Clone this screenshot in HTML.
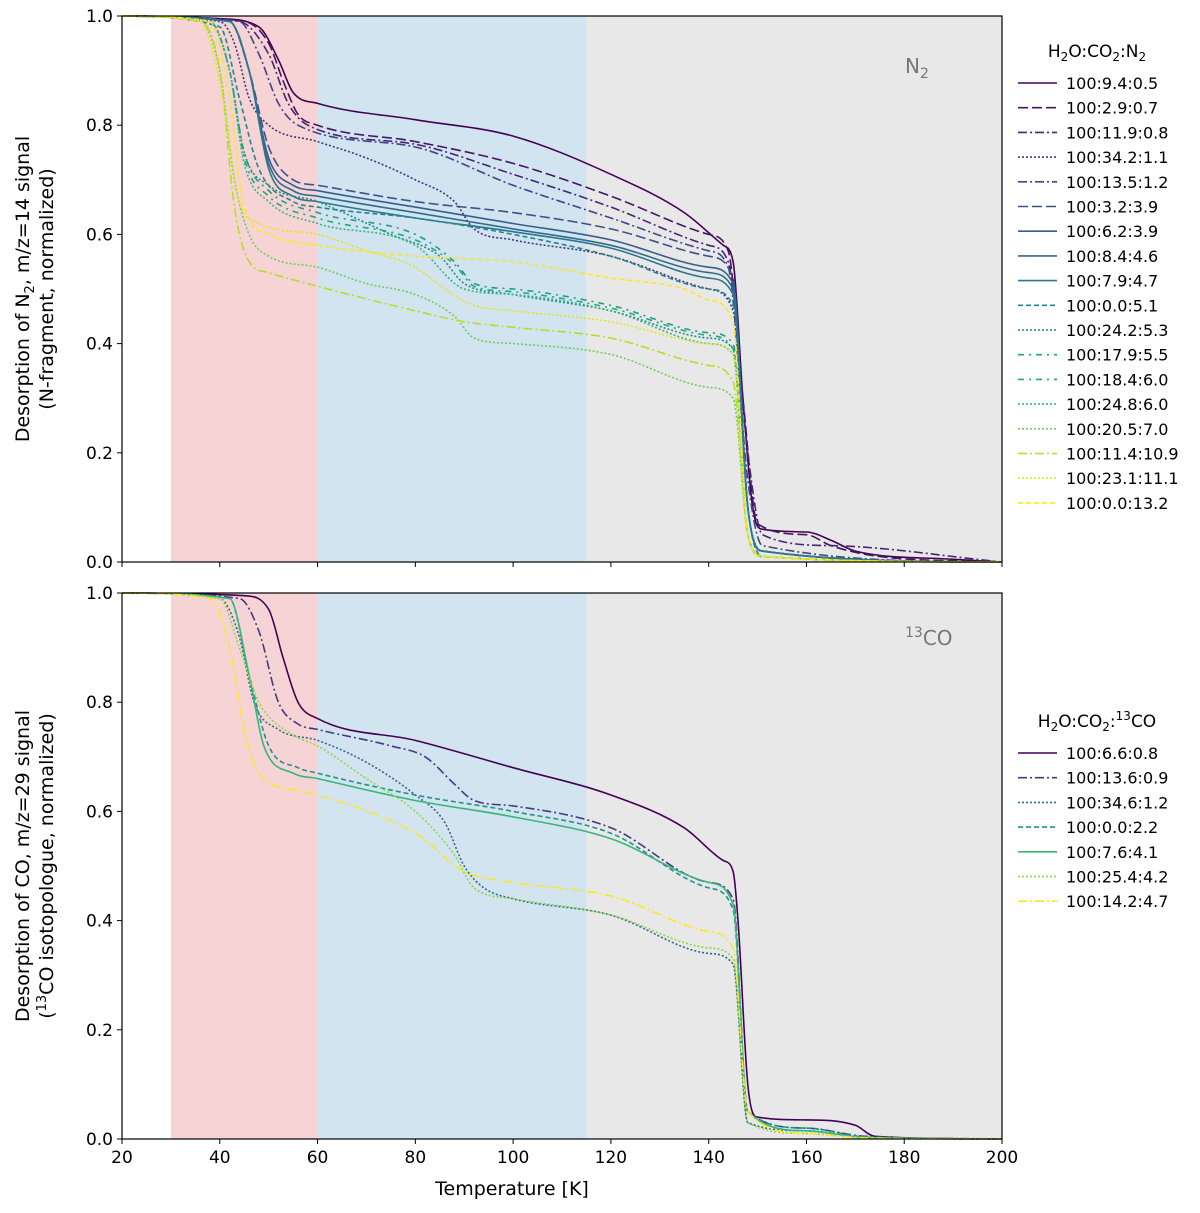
<!DOCTYPE html>
<html><head><meta charset="utf-8"><style>
body{margin:0;background:#fff;font-family:"Liberation Sans","DejaVu Sans",sans-serif}
svg text{font-family:"DejaVu Sans","Liberation Sans",sans-serif}
</style></head><body>
<svg id="c" width="1200" height="1208" xmlns="http://www.w3.org/2000/svg"></svg>
<script>
const topLabels=["100:9.4:0.5","100:2.9:0.7","100:11.9:0.8","100:34.2:1.1","100:13.5:1.2","100:3.2:3.9","100:6.2:3.9","100:8.4:4.6","100:7.9:4.7","100:0.0:5.1","100:24.2:5.3","100:17.9:5.5","100:18.4:6.0","100:24.8:6.0","100:20.5:7.0","100:11.4:10.9","100:23.1:11.1","100:0.0:13.2"];
const topColors=["#440154","#471365","#482475","#463480","#414487","#3b528b","#355f8d","#2f6c8e","#2a788e","#25858e","#21918c","#1f9e89","#22a884","#35b779","#6ece58","#b5de2b","#e4e419","#fde725"];
const topDash=["","10,4","9,3,2,3","2,2","9,3,2,3","10,4","","","","5,3","2,2","6,5,2,5","6,5,2,5","2,2","2,2","9,3,2,3","2,2","5,3"];
const topT=[
[20,40,48,52,55,60,80,100,120,135,143,145,147,149,151,160,165,170,190,200],
[20,45,50,53,56,60,80,100,120,140,144,147,150,160,165,175,200],
[20,44,50,54,58,80,100,120,140,144,148,151,165,200],
[20,40,43,46,50,60,70,80,88,92,100,120,140,145,148,151,200],
[20,44,48,52,56,80,100,120,140,144,148,151,200],
[20,42,46,50,55,60,80,100,120,140,145,148,151,200],
[20,42,46,50,55,60,80,100,120,140,145,148,151,200],
[20,42,46,50,55,60,80,100,120,140,145,148,151,200],
[20,42,46,50,55,60,80,100,120,140,145,148,151,200],
[20,40,44,48,55,60,80,100,120,140,145,148,151,200],
[20,38,42,45,50,60,75,85,90,100,120,140,145,148,151,200],
[20,38,42,45,50,60,80,88,92,100,120,140,145,148,151,200],
[20,38,42,45,50,60,80,88,92,100,120,140,145,148,151,200],
[20,38,42,45,50,60,80,90,100,120,140,145,148,151,200],
[20,36,40,43,46,50,60,70,80,88,92,100,120,140,145,148,151,200],
[20,36,40,43,46,50,60,80,90,100,120,140,145,148,151,200],
[20,36,40,44,48,60,70,80,86,92,100,120,140,145,148,151,200],
[20,38,42,45,50,60,80,100,120,135,140,145,148,151,200]];
const topV=[
[1,.995,.98,.92,.86,.84,.81,.78,.71,.64,.58,.55,.3,.1,.06,.055,.04,.02,.005,0],
[1,.99,.95,.88,.82,.80,.77,.73,.67,.6,.57,.3,.07,.05,.03,.01,0],
[1,.99,.93,.84,.80,.765,.71,.65,.58,.55,.2,.05,.03,0],
[1,.99,.95,.85,.80,.77,.74,.70,.66,.61,.59,.56,.5,.46,.1,.02,0],
[1,.99,.93,.84,.80,.76,.69,.63,.57,.54,.15,.03,0],
[1,.99,.9,.76,.70,.69,.66,.64,.61,.56,.52,.1,.02,0],
[1,.99,.9,.74,.69,.68,.65,.62,.59,.54,.51,.1,.02,0],
[1,.99,.9,.73,.68,.67,.64,.61,.58,.53,.50,.1,.02,0],
[1,.99,.9,.72,.67,.66,.63,.605,.575,.52,.49,.1,.02,0],
[1,.98,.85,.72,.66,.65,.63,.60,.56,.50,.47,.1,.01,0],
[1,.99,.9,.75,.69,.66,.60,.56,.51,.49,.46,.41,.39,.05,.01,0],
[1,.99,.9,.75,.68,.64,.60,.55,.51,.50,.47,.42,.40,.05,.01,0],
[1,.99,.9,.74,.67,.63,.59,.545,.505,.495,.465,.415,.39,.05,.01,0],
[1,.99,.9,.73,.66,.62,.58,.50,.49,.46,.40,.38,.05,.01,0],
[1,.99,.9,.7,.6,.56,.54,.51,.49,.45,.41,.40,.38,.32,.30,.05,.01,0],
[1,.99,.9,.65,.55,.53,.505,.46,.44,.43,.41,.36,.33,.05,.01,0],
[1,.99,.88,.66,.62,.60,.57,.54,.50,.47,.46,.44,.40,.38,.05,.01,0],
[1,.99,.85,.65,.60,.58,.56,.55,.52,.50,.48,.44,.05,.01,0]];
const botLabels=["100:6.6:0.8","100:13.6:0.9","100:34.6:1.2","100:0.0:2.2","100:7.6:4.1","100:25.4:4.2","100:14.2:4.7"];
const botColors=["#440154","#443983","#31688e","#21918c","#35b779","#8fd744","#fde725"];
const botDash=["","9,3,2,3","2,2","5,3","","2,2","9,3,2,3"];
const botT=[
[20,45,50,53,56,60,80,100,120,135,143,145,146,148,150,160,170,174,200],
[20,44,48,52,56,60,75,82,88,92,100,120,140,145,148,160,172,200],
[20,40,44,47,52,60,70,80,86,90,94,100,120,140,145,148,160,172,200],
[20,42,46,50,56,60,80,100,120,140,145,148,160,172,200],
[20,42,46,49,55,60,80,100,120,140,145,148,160,172,200],
[20,40,44,48,55,60,70,80,88,92,100,120,140,145,148,160,172,200],
[20,38,42,45,48,55,60,80,90,100,120,140,145,148,160,172,200]];
const botV=[
[1,.995,.97,.88,.80,.77,.73,.68,.63,.57,.51,.49,.4,.1,.04,.035,.025,.005,0],
[1,.99,.93,.80,.76,.75,.72,.70,.65,.62,.61,.57,.47,.44,.05,.02,.005,0],
[1,.99,.92,.80,.75,.73,.69,.63,.58,.50,.46,.44,.41,.34,.32,.03,.015,.003,0],
[1,.99,.85,.72,.68,.67,.63,.60,.56,.46,.42,.05,.02,.004,0],
[1,.99,.85,.72,.67,.66,.62,.59,.55,.47,.43,.05,.015,.003,0],
[1,.99,.9,.8,.74,.72,.66,.60,.52,.46,.44,.41,.35,.33,.03,.01,.002,0],
[1,.99,.9,.75,.67,.64,.63,.56,.49,.47,.445,.38,.35,.05,.01,.002,0]];
const xTicks=[20,40,60,80,100,120,140,160,180,200];
const yTicks=[0,0.2,0.4,0.6,0.8,1.0];

const S=document.getElementById('c'),NS="http://www.w3.org/2000/svg";
function mk(t,a,p){const e=document.createElementNS(NS,t);for(const k in a)e.setAttribute(k,a[k]);(p||S).appendChild(e);return e;}
const X0=122,X1=1002;
const sx=t=>X0+(t-20)/180*(X1-X0);
// monotone cubic (Fritsch-Carlson) path through data points
function monoPath(xs,ys){
  const n=xs.length,d=[],m=[];
  for(let i=0;i<n-1;i++)d.push((ys[i+1]-ys[i])/(xs[i+1]-xs[i]));
  m[0]=d[0];m[n-1]=d[n-2];
  for(let i=1;i<n-1;i++){m[i]=(d[i-1]*d[i]<=0)?0:(d[i-1]+d[i])/2;}
  for(let i=0;i<n-1;i++){if(d[i]===0){m[i]=0;m[i+1]=0;continue;}
    const a=m[i]/d[i],b=m[i+1]/d[i],s=a*a+b*b;if(s>9){const t=3/Math.sqrt(s);m[i]=t*a*d[i];m[i+1]=t*b*d[i];}}
  let p='M'+xs[0].toFixed(1)+','+ys[0].toFixed(1);
  for(let i=0;i<n-1;i++){const h=(xs[i+1]-xs[i])/3;
    p+='C'+(xs[i]+h).toFixed(1)+','+(ys[i]+m[i]*h).toFixed(1)+' '+(xs[i+1]-h).toFixed(1)+','+(ys[i+1]-m[i+1]*h).toFixed(1)+' '+xs[i+1].toFixed(1)+','+ys[i+1].toFixed(1);}
  return p;
}
function panel(yTop,yBot,T,V,cols,dash,labs,name,legY,legTitle,tag,tagX,tagY,showX,ylab1,ylab2){
  const sy=v=>yBot-v*(yBot-yTop);
  const g=mk('g',{});
  const bands=[[30,60,'#f6d4d5','cold-band'],[60,115,'#d2e4f0','mid-band'],[115,200,'#e8e8e8','warm-band']];
  bands.forEach(b=>{const r=mk('rect',{x:sx(b[0]),y:yTop,width:sx(b[1])-sx(b[0]),height:yBot-yTop,fill:b[2]},g);});
  const tt=mk('text',{x:tagX,y:tagY,'font-size':20,fill:'#777'},g);tt.innerHTML=tag;
  for(let i=0;i<T.length;i++){
    const d=monoPath(T[i].map(sx),V[i].map(sy));
    const p=mk('path',{d:d,fill:'none',stroke:cols[i],'stroke-width':1.6,'stroke-dasharray':dash[i]},g);
    
    
  }
  const fr=mk('rect',{x:X0,y:yTop,width:X1-X0,height:yBot-yTop,fill:'none',stroke:'#000','stroke-width':1.2},g);
  
  xTicks.forEach(t=>{mk('line',{x1:sx(t),x2:sx(t),y1:yBot,y2:yBot+5,stroke:'#000'},g);
    if(showX){const l=mk('text',{x:sx(t),y:yBot+24,'font-size':17,'text-anchor':'middle'},g);l.textContent=t;}});
  yTicks.forEach(v=>{mk('line',{x1:X0-5,x2:X0,y1:sy(v),y2:sy(v),stroke:'#000'},g);
    const l=mk('text',{x:X0-9,y:sy(v)+6,'font-size':17,'text-anchor':'end'},g);l.textContent=v.toFixed(1);});
  const cy=(yTop+yBot)/2;
  const y1=mk('text',{x:0,y:0,'font-size':19,'text-anchor':'middle',transform:`translate(29,${cy}) rotate(-90)`},g);y1.innerHTML=ylab1;
  const y2=mk('text',{x:0,y:0,'font-size':19,'text-anchor':'middle',transform:`translate(53,${cy}) rotate(-90)`},g);y2.innerHTML=ylab2;
  const lg=mk('g',{},g);
  const lt=mk('text',{x:1097,y:legY-26,'font-size':17,'text-anchor':'middle'},lg);lt.innerHTML=legTitle;
  labs.forEach((s,i)=>{const y=legY+i*24.7;
    const ln=mk('line',{x1:1018,x2:1057,y1:y,y2:y,stroke:cols[i],'stroke-width':1.6,'stroke-dasharray':dash[i]},lg);
    const t=mk('text',{x:1066,y:y+6,'font-size':16},lg);t.textContent=s;});
}
panel(16,562,topT,topV,topColors,topDash,topLabels,'n2',83,'H<tspan font-size="12" dy="4">2</tspan><tspan dy="-4">O:CO</tspan><tspan font-size="12" dy="4">2</tspan><tspan dy="-4">:N</tspan><tspan font-size="12" dy="4">2</tspan>','N<tspan font-size="14" dy="5">2</tspan>',905,73,false,'Desorption of N<tspan font-size="13" dy="5">2</tspan><tspan dy="-5">, m/z=14 signal</tspan>','(N-fragment, normalized)');
panel(593,1139,botT,botV,botColors,botDash,botLabels,'co',753,'H<tspan font-size="12" dy="4">2</tspan><tspan dy="-4">O:CO</tspan><tspan font-size="12" dy="4">2</tspan><tspan dy="-4">:</tspan><tspan font-size="12" dy="-7">13</tspan><tspan dy="7">CO</tspan>','<tspan font-size="14" dy="-8">13</tspan><tspan dy="8">CO</tspan>',905,645,true,'Desorption of CO, m/z=29 signal','(<tspan font-size="13" dy="-7">13</tspan><tspan dy="7">CO isotopologue, normalized)</tspan>');
const xl=mk('text',{x:512,y:1195,'font-size':19,'text-anchor':'middle'});xl.textContent='Temperature [K]';


</script>
</body></html>
